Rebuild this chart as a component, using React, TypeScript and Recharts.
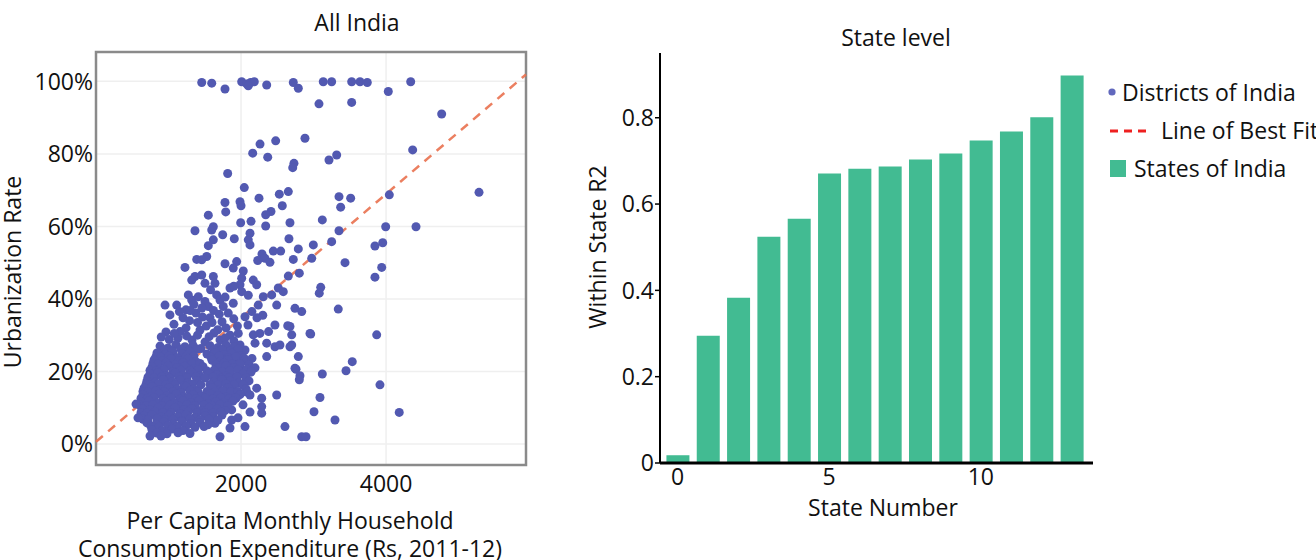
import React from "react";
import {
  Bar,
  BarChart,
  CartesianGrid,
  ReferenceArea,
  ReferenceLine,
  Scatter,
  ScatterChart,
  XAxis,
  YAxis,
} from "recharts";

// districts: [per capita expenditure (Rs), urbanization rate (%)]
const districtsUpper: [number, number][] = [
  [1458, 99.7], [1596, 99.5], [1779, 97.9], [2009, 99.9], [2078, 99.3], [2133, 99.7], [2183, 99.9],
  [2100, 98.8], [2354, 99.0], [2721, 99.7], [2790, 98.1], [3134, 99.9], [3250, 99.9], [3526, 99.9],
  [3641, 99.9], [3741, 99.7], [4031, 97.2], [4340, 99.9], [3075, 93.8], [3526, 94.2], [4767, 91.0],
  [4367, 81.1], [5282, 69.4], [2262, 82.7], [2478, 83.6], [2161, 80.2], [2368, 79.1], [2882, 84.3],
  [2730, 77.4], [2713, 76.2], [1816, 74.6], [3213, 78.3], [3319, 79.7], [2045, 70.7], [2652, 69.6],
  [2528, 68.9], [2248, 67.8], [1779, 66.6], [1986, 66.8], [2569, 65.7], [2000, 65.7], [3351, 68.2],
  [3512, 67.8], [3374, 65.3], [4045, 68.7], [1549, 63.1], [1789, 64.0], [2413, 64.1], [2340, 63.2],
  [1995, 61.0], [2138, 61.4], [2675, 61.0], [3121, 61.8], [3351, 58.8], [3995, 59.9], [4413, 59.9],
  [1365, 58.8], [1618, 59.9], [1596, 59.0], [1747, 57.7], [1907, 56.6], [2124, 58.1], [2100, 56.3],
  [2340, 60.1], [2661, 56.6], [1618, 56.3], [1549, 54.7], [2124, 54.9], [2289, 52.4], [2445, 53.2],
  [2547, 53.2], [2790, 53.8], [2997, 54.9], [3250, 55.8], [3847, 54.6], [3954, 55.5], [2721, 50.9],
  [3434, 50.0], [3940, 48.7], [3847, 46.0], [2804, 47.1], [3099, 43.2], [3079, 41.6], [2837, 36.5],
  [3341, 37.2], [2675, 32.4], [2699, 30.1], [2961, 30.3], [3871, 30.1], [2699, 27.3], [2790, 24.1],
  [2758, 20.6], [2813, 18.8], [2804, 17.7], [3121, 19.3], [3448, 20.2], [3534, 22.7], [3916, 16.3],
  [3089, 12.8], [3006, 8.9], [3296, 6.6], [4182, 8.7], [2837, 2.0], [2896, 2.0],
];

const districtsMiddle: [number, number][] = [
  [2330, 51.2], [2399, 50.1], [1389, 50.9], [1527, 51.7], [1458, 50.8], [1227, 48.7], [1779, 49.7],
  [1940, 50.3], [1893, 48.5], [2031, 47.7], [2230, 50.6], [2975, 51.2], [2652, 46.3], [1365, 46.2],
  [1458, 46.6], [1320, 45.2], [1618, 46.2], [1503, 44.3], [1641, 44.3], [2009, 45.7], [1986, 43.9],
  [2169, 45.2], [2216, 43.9], [1848, 43.0], [2009, 42.0], [2514, 43.0], [2307, 40.6], [2423, 41.1],
  [2583, 42.0], [952, 38.3], [1113, 38.3], [1273, 41.1], [1320, 39.7], [1411, 40.6], [1503, 39.3],
  [1664, 41.1], [1710, 39.7], [1549, 37.9], [1755, 37.9], [1893, 38.8], [2238, 38.3], [2492, 38.3],
  [2744, 37.4], [2468, 32.8], [2644, 32.6], [2951, 30.5], [2354, 27.8], [2468, 26.8], [2537, 27.3],
  [2675, 26.8], [2354, 24.1], [2744, 20.9], [2031, 16.3], [2216, 15.4], [2492, 13.5], [2285, 12.6],
  [2285, 10.3], [2285, 8.5], [2606, 4.8], [2055, 4.8], [1871, 9.4], [1871, 6.6], [1641, 5.7],
  [1710, 2.0], [2055, 35.1], [1824, 36.1], [2169, 30.1], [1962, 30.5], [2193, 27.8], [2055, 25.9],
  [1917, 23.2], [1986, 21.3], [1917, 18.6], [1871, 15.8], [1940, 13.0], [1824, 12.1],
  [1020, 35.6], [1200, 34.8], [1379, 36.1], [1572, 34.8], [1738, 33.7], [1241, 32.0], [1434, 31.4],
  [1627, 30.6], [1793, 32.0], [965, 30.9], [1131, 29.2], [1324, 28.7], [1503, 28.1], [1710, 28.7],
  [2096, 32.8], [2220, 34.8], [1986, 27.3], [1848, 25.9],
  [1075, 33.0], [1160, 31.0], [1290, 34.0], [1400, 33.5], [1520, 32.5], [1680, 31.5], [1850, 30.0],
  [1900, 34.5], [1460, 37.5], [1620, 36.8], [1350, 38.5], [1240, 37.0], [1780, 40.5], [1900, 43.5],
  [1580, 42.5], [2100, 41.0], [2150, 36.5], [2300, 35.5], [2380, 31.0], [2260, 30.5],
  [900, 29.5], [1010, 28.8], [1080, 30.5], [1250, 29.8], [1400, 30.0], [1560, 29.6], [1780, 29.2],
  [1900, 28.5], [1600, 33.5], [1470, 35.0], [1700, 35.8], [1950, 32.5], [1150, 36.5], [1300, 36.8],
];

const districtsDense: [number, number][] = [
  [883, 27.0], [993, 26.5], [1103, 27.4], [1227, 26.8], [1338, 27.2], [1448, 26.3], [1572, 27.1],
  [1682, 26.6], [1793, 27.3], [1903, 26.9],
  [938, 26.0], [1048, 25.8], [1172, 26.1], [1283, 25.7], [1393, 26.2], [1627, 25.9], [1738, 26.0],
  [1848, 25.6], [1958, 26.1],
  [841, 25.1], [952, 24.7], [1062, 25.4], [1186, 24.9], [1296, 25.3], [1531, 24.8], [1641, 25.2],
  [1765, 24.6], [1875, 25.0], [1986, 24.4],
  [827, 24.1], [896, 23.9], [1007, 24.2], [1117, 23.8], [1241, 24.0], [1351, 24.3], [1586, 23.9],
  [1696, 24.2], [1820, 23.8], [1931, 24.1], [2041, 23.7],
  [800, 23.2], [910, 22.8], [1034, 23.5], [1145, 23.0], [1269, 23.4], [1379, 22.7], [1600, 23.1],
  [1710, 22.6], [1820, 23.3], [2041, 22.9], [2151, 23.6],
  [786, 22.2], [855, 22.0], [965, 22.3], [1089, 21.9], [1200, 22.4], [1324, 22.1], [1434, 22.2],
  [1655, 21.8], [1765, 22.3], [1875, 22.0], [1986, 22.2], [2110, 21.9],
  [772, 21.2], [883, 20.7], [993, 21.5], [1117, 21.0], [1227, 21.4], [1351, 20.8], [1476, 21.3],
  [1682, 20.9], [1793, 21.6], [1903, 21.1], [2082, 20.6], [2193, 21.0],
  [745, 20.3], [827, 20.1], [938, 20.4], [1062, 20.0], [1172, 20.3], [1296, 20.2], [1407, 20.4],
  [1531, 20.1], [1627, 20.3], [1738, 19.9], [1848, 20.2], [1958, 20.4], [2137, 20.1],
  [745, 19.3], [855, 19.7], [965, 18.9], [1089, 19.5], [1200, 19.0], [1324, 19.6], [1434, 18.8],
  [1558, 19.4], [1669, 19.1], [1793, 18.7], [2027, 19.3], [2137, 19.8],
  [717, 18.4], [800, 18.2], [910, 18.5], [1020, 18.1], [1145, 18.4], [1255, 18.3], [1379, 18.5],
  [1503, 18.2], [1613, 18.4], [1724, 18.1], [1834, 18.3], [1945, 18.5], [2069, 18.2],
  [703, 17.4], [814, 17.0], [924, 17.7], [1048, 17.2], [1158, 17.6], [1269, 16.9], [1393, 17.5],
  [1627, 17.1], [1738, 17.8], [1848, 17.3], [1972, 16.8], [2110, 17.4],
  [690, 16.4], [745, 16.2], [855, 16.5], [965, 16.3], [1089, 16.4], [1214, 16.1], [1324, 16.5],
  [1448, 16.3], [1572, 16.4], [1682, 16.2], [1793, 16.5], [1903, 16.3], [2027, 16.4],
  [662, 15.4], [772, 15.8], [883, 15.0], [1007, 15.6], [1117, 15.1], [1241, 15.7], [1351, 15.2],
  [1600, 15.5], [1710, 14.9], [1820, 15.6], [2069, 15.2],
  [648, 14.5], [717, 14.3], [827, 14.6], [938, 14.4], [1062, 14.5], [1172, 14.2], [1296, 14.6],
  [1407, 14.4], [1531, 14.5], [1641, 14.3], [1751, 14.6], [1862, 14.4], [1958, 14.5], [2082, 14.3],
  [648, 13.5], [758, 13.1], [869, 13.8], [979, 13.3], [1103, 13.7], [1214, 13.0], [1338, 13.6],
  [1448, 13.2], [1572, 13.9], [1682, 13.4], [1793, 12.9], [1986, 13.6],
  [621, 12.6], [703, 12.4], [800, 12.7], [924, 12.5], [1034, 12.6], [1158, 12.3], [1269, 12.7],
  [1379, 12.5], [1503, 12.6], [1613, 12.4], [1724, 12.7], [1834, 12.5], [1931, 12.6],
  [621, 11.6], [731, 11.9], [841, 11.2], [965, 11.8], [1076, 11.3], [1200, 11.9], [1310, 11.4],
  [1420, 12.0], [1544, 11.1], [1655, 11.7], [1765, 11.3], [1889, 11.8],
  [607, 10.7], [690, 10.5], [786, 10.8], [910, 10.6], [1020, 10.7], [1145, 10.4], [1255, 10.8],
  [1365, 10.6], [1490, 10.7], [1600, 10.5], [1710, 10.8], [1820, 10.6],
  [634, 9.7], [745, 9.3], [855, 9.9], [979, 9.4], [1089, 10.0], [1214, 9.5], [1324, 9.8],
  [1448, 9.2], [1558, 9.9], [1669, 9.6], [1779, 9.2],
  [621, 8.7], [703, 8.5], [814, 8.8], [924, 8.6], [1034, 8.7], [1158, 8.4], [1269, 8.8],
  [1393, 8.6], [1503, 8.7], [1613, 8.5], [1724, 8.8],
  [662, 7.7], [772, 8.1], [896, 7.4], [1007, 7.9], [1131, 7.5], [1241, 8.0], [1365, 7.3],
  [1503, 7.8], [1613, 7.5], [1738, 8.0],
  [648, 6.8], [717, 6.6], [841, 6.9], [952, 6.7], [1062, 6.8], [1186, 6.5], [1296, 6.9],
  [1434, 6.7], [1558, 6.8], [1682, 6.6],
  [703, 5.8], [827, 5.4], [938, 6.0], [1062, 5.5], [1186, 6.1], [1310, 5.6], [1434, 5.9], [1544, 5.3],
  [758, 4.9], [869, 4.7], [993, 5.0], [1117, 4.8], [1241, 4.9], [1365, 4.6], [1490, 4.8],
  [772, 3.9], [910, 3.6], [1048, 4.1], [1200, 3.7],
  [841, 3.0], [979, 2.8], [1131, 3.1], [1296, 2.9],
  [552, 11.0], [579, 7.2], [745, 2.2], [896, 2.2], [2124, 13.5], [2027, 10.8], [2124, 8.8],
  [1958, 7.2], [1848, 4.4],
];

const bestFit = [
  { x: 0, y: 0.6 },
  { x: 5930, y: 101.9 },
];

const stateNumbers = [0, 1, 2, 3, 4, 5, 6, 7, 8, 9, 10, 11, 12, 13];
const stateR2 = [0.018, 0.295, 0.383, 0.524, 0.566, 0.671, 0.682, 0.687, 0.703, 0.717, 0.747, 0.768, 0.801, 0.898];

const yTicksPct = [0, 20, 40, 60, 80, 100];
const xTicksRs = [2000, 4000];
const r2Ticks = [0, 0.2, 0.4, 0.6, 0.8];
const stateTicks = [0, 5, 10];

const FONT = '"Open Sans", sans-serif';
const DOT = "#5259b1";
const GREEN = "#42bb92";

const districts = [...districtsUpper, ...districtsMiddle, ...districtsDense].map(([x, y]) => ({ x, y }));
const states = stateNumbers.map((n, i) => ({ state: n, r2: stateR2[i] }));

function Txt({ x, y, size = 23, rotate = false, children }: any) {
  return (
    <div
      style={{
        position: "absolute",
        left: x,
        top: y,
        transform: `translate(-50%, -50%)${rotate ? " rotate(-90deg)" : ""}`,
        fontSize: size,
        lineHeight: 1,
        whiteSpace: "nowrap",
        color: "#111",
        fontFamily: FONT,
        textAlign: "center",
      }}
    >
      {children}
    </div>
  );
}

const dot = (p: any) => <circle cx={p.cx} cy={p.cy} r={4.5} fill={DOT} />;

export default function App() {
  return (
    <div
      style={{
        position: "absolute",
        left: 0,
        top: 0,
        width: 1316,
        height: 560,
        overflow: "hidden",
        background: "#fff",
        fontFamily: FONT,
      }}
    >
      <div style={{ position: "absolute", left: 0, top: 0 }}>
        <ScatterChart width={540} height={560} margin={{ top: 52, right: 14, bottom: 65, left: 0 }}>
          <CartesianGrid stroke="#efefef" strokeWidth={1.5} />
          <XAxis
            type="number"
            dataKey="x"
            domain={[0, 5930]}
            ticks={xTicksRs}
            height={30}
            axisLine={false}
            tickLine={false}
            tickSize={0}
            tickMargin={11}
            tick={{ fill: "#111", fontSize: 23, fontFamily: FONT }}
          />
          <YAxis
            type="number"
            dataKey="y"
            domain={[-5.8, 108.1]}
            ticks={yTicksPct}
            width={96}
            axisLine={false}
            tickLine={false}
            tickSize={0}
            tickMargin={3}
            tickFormatter={(v: number) => `${v}%`}
            tick={{ fill: "#111", fontSize: 23, fontFamily: FONT }}
          />
          <ReferenceArea
            x1={0}
            x2={5930}
            y1={-5.8}
            y2={108.1}
            fill="none"
            stroke="#8a8a8a"
            strokeWidth={2.5}
            ifOverflow="visible"
          />
          <Scatter data={districts} shape={dot} isAnimationActive={false} />
          <ReferenceLine
            segment={bestFit}
            stroke="#e9714f"
            strokeOpacity={0.9}
            strokeWidth={2.5}
            strokeDasharray="9 7"
            ifOverflow="visible"
          />
        </ScatterChart>
      </div>

      <Txt x={357} y={22}>All India</Txt>
      <Txt x={12} y={272} rotate>Urbanization Rate</Txt>
      <Txt x={290} y={520}>Per Capita Monthly Household</Txt>
      <Txt x={290} y={548}>Consumption Expenditure (Rs, 2011-12)</Txt>

      <div style={{ position: "absolute", left: 540, top: 0 }}>
        <BarChart width={776} height={560} data={states} margin={{ top: 53, right: 223, bottom: 67, left: 0 }}>
          <XAxis
            type="number"
            dataKey="state"
            domain={[-0.58, 13.7]}
            ticks={stateTicks}
            height={30}
            axisLine={{ stroke: "#000", strokeWidth: 3 }}
            tickLine={false}
            tickSize={0}
            tickMargin={6}
            tick={{ fill: "#111", fontSize: 23, fontFamily: FONT }}
          />
          <YAxis
            type="number"
            domain={[0, 0.95]}
            ticks={r2Ticks}
            width={120}
            axisLine={{ stroke: "#000", strokeWidth: 2 }}
            tickLine={{ stroke: "#000", strokeWidth: 1.5 }}
            tickSize={5}
            tickMargin={1}
            tickFormatter={(v: number) => (v === 0 ? "0" : v.toFixed(1))}
            tick={{ fill: "#111", fontSize: 23, fontFamily: FONT }}
          />
          <Bar dataKey="r2" fill={GREEN} barSize={23} isAnimationActive={false} />
        </BarChart>
      </div>

      <Txt x={896} y={37}>State level</Txt>
      <Txt x={597} y={247} rotate>Within State R2</Txt>
      <Txt x={883} y={507}>State Number</Txt>

      <svg style={{ position: "absolute", left: 1100, top: 70 }} width={216} height={120}>
        <circle cx={12} cy={22} r={3.6} fill="#6168bd" />
        <text x={22} y={22} dominantBaseline="central" fontSize={23} fontFamily={FONT} fill="#111">
          Districts of India
        </text>
        <line x1={10} x2={47} y1={61} y2={61} stroke="#ee2020" strokeWidth={3} strokeDasharray="8 6" />
        <text x={61} y={60} dominantBaseline="central" fontSize={23} fontFamily={FONT} fill="#111">
          Line of Best Fit
        </text>
        <rect x={10} y={90} width={16} height={17} fill={GREEN} />
        <text x={34} y={98} dominantBaseline="central" fontSize={23} fontFamily={FONT} fill="#111">
          States of India
        </text>
      </svg>
    </div>
  );
}
